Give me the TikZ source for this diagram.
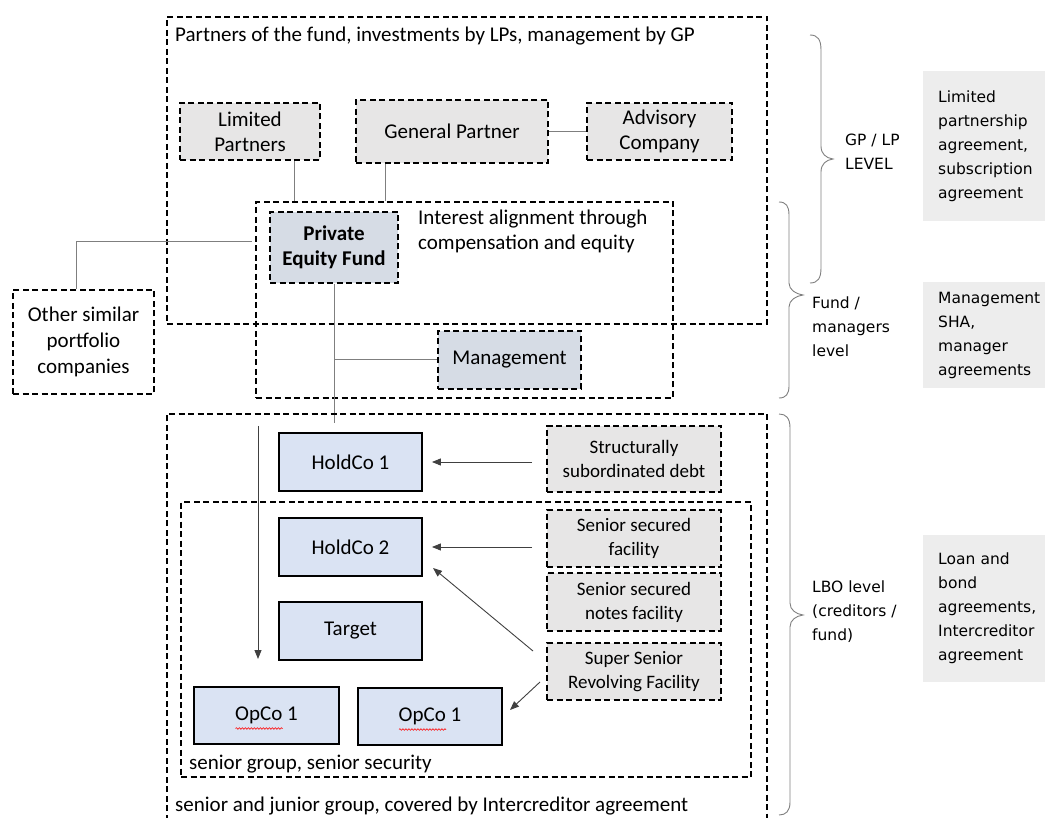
\documentclass[tikz,border=0pt]{standalone}
\usepackage{fontspec}
\setmainfont{Carlito}
\newfontfamily\vfont{DejaVu Sans}
\usetikzlibrary{arrows.meta,decorations.pathmorphing,calc}
\definecolor{boxgray}{HTML}{E7E6E6}
\definecolor{boxblue}{HTML}{DAE3F3}
\definecolor{boxslate}{HTML}{D6DCE5}
\definecolor{sidegray}{HTML}{EDEDED}
\definecolor{linegray}{HTML}{7F7F7F}
\newcommand\fmain{\fontsize{21}{25}\selectfont}
\newcommand\fdebt{\fontsize{19}{24}\selectfont}
\newcommand\fside{\vfont\fontsize{15.5}{24}\selectfont}
\begin{document}
\begin{tikzpicture}[x=1pt,y=-1pt,
  dsh/.style={dash pattern=on 6pt off 3.5pt, line width=1.6pt},
  frame/.style={draw, dsh, inner sep=0pt},
  gbox/.style={draw, dsh, fill=boxgray, inner sep=0pt, align=center, font=\fmain},
  sbox/.style={draw, dsh, fill=boxslate, inner sep=0pt, align=center, font=\fmain},
  dbox/.style={draw, dsh, fill=boxgray, inner sep=0pt, align=center, font=\fdebt, minimum width=174pt},
  cobox/.style={draw, line width=1.8pt, fill=boxblue, inner sep=0pt, align=center, font=\fmain, minimum width=143pt, minimum height=58pt},
  wbox/.style={draw, dsh, fill=white, inner sep=0pt, align=center, font=\fmain},
  rbox/.style={fill=sidegray, inner xsep=15pt, inner ysep=0pt, text width=110pt, align=left, font=\fside, anchor=north west},
  lbl/.style={inner sep=0pt, align=left, anchor=west},
  conn/.style={draw=linegray, line width=1pt},
  arr/.style={draw=black!75, line width=0.9pt, -{Triangle[length=9pt,width=7pt]}},
  brace/.style={draw=linegray, line width=0.9pt},
  squig/.style={draw=red, line width=0.6pt, decorate, decoration={snake, segment length=3pt, amplitude=0.8pt}}
]
\useasboundingbox (0,0) rectangle (1045,818);

% ---------- GP / LP level frame ----------
\node[frame, minimum width=600pt, minimum height=307pt] (gpframe) at (467,170.5) {};
\node[lbl, font=\fmain] (gptitle) at (175,36) {Partners of the fund, investments by LPs, management by GP};

\node[gbox, minimum width=140pt, minimum height=57pt] (lp) at (250,131.5) {Limited\\Partners};
\node[gbox, minimum width=192pt, minimum height=63pt] (gp) at (452,131.5) {General Partner};
\node[gbox, minimum width=145pt, minimum height=57pt] (adv) at (659.5,131.5) {Advisory\\Company};

% ---------- Fund / managers frame ----------
\node[frame, minimum width=417pt, minimum height=196pt] (fundframe) at (464.5,300) {};
\node[sbox, minimum width=128pt, minimum height=71pt, font=\fmain\bfseries] (pef) at (334,247.5) {Private\\Equity Fund};
\node[lbl, anchor=north west, font=\fmain] (align) at (418,210) {Interest alignment through\\compensation and equity};
\node[sbox, minimum width=143pt, minimum height=58pt] (mgmt) at (509.5,360) {Management};

\node[wbox, minimum width=141pt, minimum height=104pt, font=\fontsize{21}{26}\selectfont] (other) at (83.5,342) {Other similar\\portfolio\\companies};

% connectors top
\draw[conn] ($(lp.south west)+(115,0)$) coordinate (lpdrop) -- (lpdrop |- fundframe.north);
\draw[conn] ($(gp.south west)+(30,0)$) coordinate (gpdrop) -- (gpdrop |- fundframe.north);
\draw[conn] (gp.east) -- (adv.west);
\draw[conn] ($(other.north west)+(64,0)$) coordinate (otherup) |- ($(fundframe.west)+(-3,-58)$) coordinate (otherend);
\coordinate (pefend) at (334,423);
\draw[conn] (pef.south) -- (pefend);
\draw[conn] (mgmt.west) -- (mgmt.west -| pef.south);

% ---------- LBO frame ----------
\coordinate (lboA) at (167,830);
\coordinate (lboB) at (167,414);
\coordinate (lboC) at (767,414);
\coordinate (lboD) at (767,830);
\draw[dsh] (lboA) -- (lboB) -- (lboC) -- (lboD);
\node[lbl, font=\fmain] (lbotitle) at (175,806) {senior and junior group, covered by Intercreditor agreement};

\node[frame, minimum width=570pt, minimum height=275pt] (senior) at (466,639.5) {};
\node[lbl, font=\fmain] (seniortitle) at (189,764) {senior group, senior security};

\node[cobox] (hc1) at (350.5,462) {HoldCo 1};
\node[cobox] (hc2) at (350.5,547) {HoldCo 2};
\node[cobox] (tgt) at (350.5,631) {Target};
\node[cobox, minimum width=145pt, minimum height=57pt] (opl) at (266.5,715.5) {OpCo 1};
\node[cobox, minimum width=144pt, minimum height=57pt] (opr) at (430,716.5) {OpCo 1};
\draw[squig] ($(opl.center)+(-31,13)$) -- ($(opl.center)+(16,13)$);
\draw[squig] ($(opr.center)+(-31,13)$) -- ($(opr.center)+(16,13)$);

\node[dbox, minimum height=66pt] (sub) at (634,459) {Structurally\\subordinated debt};
\node[dbox, minimum height=57pt] (ssf) at (634,538.5) {Senior secured\\facility};
\node[dbox, minimum height=58pt] (ssn) at (634,602) {Senior secured\\notes facility};
\node[dbox, minimum height=57pt] (ssrf) at (634,671.5) {Super Senior\\Revolving Facility};

% arrows
\draw[arr, shorten <=14pt, shorten >=9pt] (sub.west |- hc1.east) -- (hc1.east);
\draw[arr, shorten <=14pt, shorten >=9pt] (ssf.west |- hc2.east) -- (hc2.east);
\coordinate (d1s) at (533,651);
\coordinate (d1e) at (433,568);
\draw[arr] (d1s) -- (d1e);
\coordinate (d2s) at (540,682);
\coordinate (d2e) at (510,710);
\draw[arr] (d2s) -- (d2e);
\coordinate (vs) at (258,426);
\coordinate (ve) at (258,659);
\draw[arr] (vs) -- (ve);

% ---------- braces ----------
\draw[brace] (810,35) .. controls (818,35) and (821,40) .. (821,50) -- (821,146)
  .. controls (821,154) and (826,158) .. (833,159)
  .. controls (826,160) and (821,164) .. (821,172) -- (821,268)
  .. controls (821,278) and (818,283) .. (810,283);
\draw[brace] (779,202) .. controls (786,202) and (789,206) .. (789,215) -- (789,283)
  .. controls (789,290) and (796,294) .. (803,295)
  .. controls (796,296) and (789,300) .. (789,307) -- (789,386)
  .. controls (789,394) and (786,398) .. (779,398);
\draw[brace] (779,414) .. controls (786,414) and (790,418) .. (790,428) -- (790,603)
  .. controls (790,610) and (796,614) .. (803,615)
  .. controls (796,616) and (790,620) .. (790,627) -- (790,802)
  .. controls (790,811) and (786,815) .. (779,815);

\node[lbl, font=\fside] (lvl1) at (845,152) {GP / LP\\LEVEL};
\node[lbl, font=\fside] (lvl2) at (812,327) {Fund /\\managers\\level};
\node[lbl, font=\fside] (lvl3) at (812,612) {LBO level\\(creditors /\\fund)};

\node[rbox, minimum height=150pt] (doc1) at (923,71) {Limited\\partnership\\agreement,\\subscription\\agreement};
\node[rbox, minimum height=106pt] (doc2) at (923,282) {Management\\SHA,\\manager\\agreements};
\node[rbox, minimum height=147pt] (doc3) at (923,535) {Loan and\\bond\\agreements,\\Intercreditor\\agreement};
\end{tikzpicture}
\end{document}
